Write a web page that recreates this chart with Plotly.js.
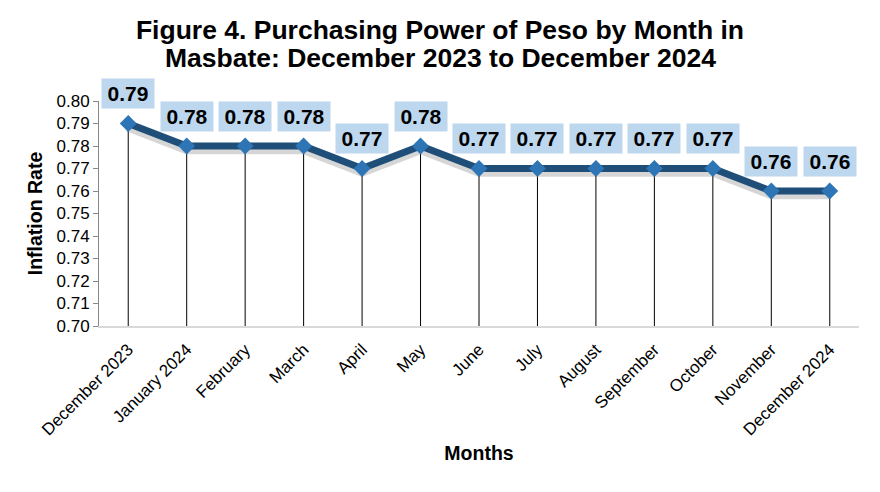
<!DOCTYPE html>
<html><head><meta charset="utf-8">
<script src="https://cdn.plot.ly/plotly-3.0.1.min.js"></script>
<style>html,body{margin:0;padding:0;background:#fff}</style>
</head><body><div id="chart" style="width:880px;height:492px"></div>
<script>
const months = ["December 2023","January 2024","February","March","April","May","June","July","August","September","October","November","December 2024"];
const values = [0.79,0.78,0.78,0.78,0.77,0.78,0.77,0.77,0.77,0.77,0.77,0.76,0.76];
const labels = ["0.79","0.78","0.78","0.78","0.77","0.78","0.77","0.77","0.77","0.77","0.77","0.76","0.76"];
const yTicks = [0.70,0.71,0.72,0.73,0.74,0.75,0.76,0.77,0.78,0.79,0.80];
const titleLine1 = "Figure 4. Purchasing Power of Peso by Month in";
const titleLine2 = "Masbate: December 2023 to December 2024";
const yBase = 0.70;
const F = "Liberation Sans, Arial, sans-serif";

const drop = {
  x: months, y: values, type: "scatter", mode: "none", hoverinfo: "skip", showlegend: false,
  error_y: {type: "data", symmetric: false, array: values.map(() => 0), arrayminus: values.map(v => v - yBase),
            color: "#000", thickness: 1, width: 0}
};
const shadow = {
  x: months, y: values.map(v => v - 0.0014), type: "scatter", mode: "lines", hoverinfo: "skip", showlegend: false,
  line: {color: "rgba(0,0,0,0.16)", width: 10}
};
const line = {
  x: months, y: values, type: "scatter", mode: "lines+markers", showlegend: false,
  line: {color: "#1F4E79", width: 7},
  marker: {symbol: "diamond", size: 13, color: "#2E75B6"}
};
const annotations = months.map((m, i) => ({
  x: m, y: values[i], xref: "x", yref: "y", text: "<b>" + labels[i] + "</b>", showarrow: false,
  yshift: 30, bgcolor: "#BDD7EE", width: 48, height: 25, borderpad: 2,
  font: {family: F, size: 21, color: "#000"}
}));
annotations.push({
  xref: "paper", yref: "paper", x: (440 - 99) / 760, y: (326 - 58) / 225, xanchor: "center", yanchor: "middle",
  showarrow: false, text: "<b>" + titleLine2 + "</b>", font: {family: F, size: 26.5, color: "#000"}
});

Plotly.newPlot("chart", [drop, shadow, line], {
  width: 880, height: 492,
  margin: {l: 99, r: 21, t: 101, b: 166},
  paper_bgcolor: "#fff", plot_bgcolor: "#fff",
  title: {text: "<b>" + titleLine1 + "</b>", x: 0.5, xanchor: "center", xref: "container",
          yref: "container", y: 1 - 30 / 492, yanchor: "middle", font: {family: F, size: 26.5, color: "#000"}},
  xaxis: {type: "category", range: [-0.5, 12.5], tickangle: -45, showgrid: false, zeroline: false,
          showline: true, linecolor: "#D9D9D9", linewidth: 2, ticks: "", ticklabelstandoff: 5,
          tickfont: {family: F, size: 17, color: "#000"},
          title: {text: "<b>Months</b>", font: {family: F, size: 19.5, color: "#000"}, standoff: 8}},
  yaxis: {range: [0.70, 0.80], tickvals: yTicks, ticktext: yTicks.map(v => v.toFixed(2)), showgrid: false, zeroline: false,
          showline: true, linecolor: "#888", linewidth: 1, ticks: "outside", ticklen: 5, tickcolor: "#888",
          tickfont: {family: F, size: 17, color: "#000"},
          title: {text: "<b>Inflation Rate</b>", font: {family: F, size: 19.5, color: "#000"}, standoff: 8}},
  annotations: annotations
}, {displayModeBar: false, staticPlot: true});
</script></body></html>
